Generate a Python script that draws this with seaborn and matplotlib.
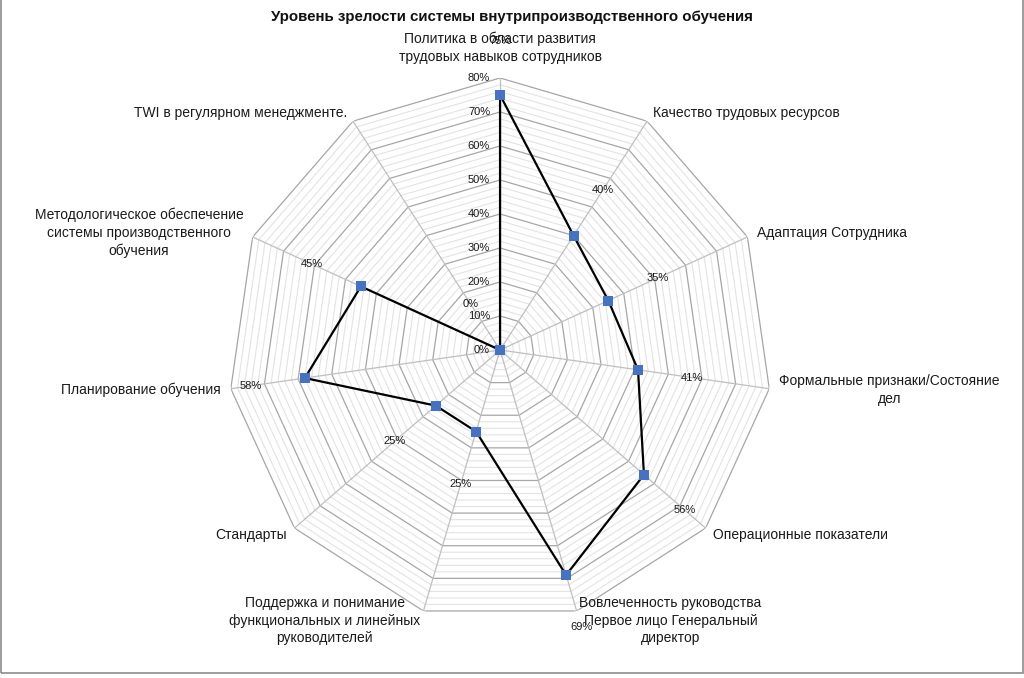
import numpy as np
import pandas as pd
import matplotlib
matplotlib.use("Agg")
import matplotlib.pyplot as plt
import seaborn as sns
from matplotlib.patches import Rectangle


# -------------------------------
# Data
# -------------------------------
categories = [
    "Политика в области развития\nтрудовых навыков сотрудников",
    "Качество трудовых ресурсов",
    "Адаптация Сотрудника",
    "Формальные признаки/Состояние\nдел",
    "Операционные показатели",
    "Вовлеченность руководства\nПервое лицо Генеральный\nдиректор",
    "Поддержка и понимание\nфункциональных и линейных\nруководителей",
    "Стандарты",
    "Планирование обучения",
    "Методологическое обеспечение\nсистемы производственного\nобучения",
    "TWI в регулярном менеджменте.",
]
values = [0.75, 0.40, 0.35, 0.41, 0.56, 0.69, 0.25, 0.25, 0.58, 0.45, 0.00]
value_labels = ["75%", "40%", "35%", "41%", "56%", "69%", "25%", "25%", "58%", "45%", "0%"]
tick_values = [0.0, 0.1, 0.2, 0.3, 0.4, 0.5, 0.6, 0.7, 0.8]
tick_labels = ["0%", "10%", "20%", "30%", "40%", "50%", "60%", "70%", "80%"]
title = "Уровень зрелости системы внутрипроизводственного обучения"

df = pd.DataFrame({"category": categories, "value": values, "label": value_labels})
n = len(df)
df["theta"] = np.linspace(0, 2 * np.pi, n, endpoint=False)
closed = pd.concat([df, df.iloc[[0]].assign(theta=2 * np.pi)], ignore_index=True)

# -------------------------------
# Style
# -------------------------------
sns.set_theme(style="white")
plt.rcParams["font.family"] = ["Liberation Sans", "DejaVu Sans"]

fig = plt.figure(figsize=(10.24, 6.78), dpi=100)
ax = fig.add_axes([0.2227, 0.0826, 0.53125, 0.8024], projection="polar")
ax.set_theta_zero_location("N")
ax.set_theta_direction(-1)
ax.set_ylim(0, 0.8)
ax.grid(False)
ax.set_xticks([])
ax.set_yticks([])
ax.spines["polar"].set_visible(False)
ax.patch.set_alpha(0)

ring_theta = np.append(df["theta"].values, 2 * np.pi)

# minor rings every 2%
for r in np.arange(0.02, 0.8, 0.02):
    if abs(r * 10 - round(r * 10)) < 1e-6:
        continue
    ax.plot(ring_theta, np.full(len(ring_theta), r), color="#e3e3e3", lw=0.8, zorder=1)
# major rings every 10%
for r in tick_values[1:]:
    ax.plot(ring_theta, np.full(len(ring_theta), r), color="#a6a6a6", lw=0.9, zorder=2)
# spokes
for t in df["theta"]:
    ax.plot([t, t], [0, 0.8], color="#bfbfbf", lw=0.9, zorder=2)

# -------------------------------
# Data series
# -------------------------------
sns.lineplot(data=closed, x="theta", y="value", sort=False, estimator=None,
             color="black", lw=1.6, marker="s", markersize=6.5, markeredgewidth=0,
             markerfacecolor="#4472C4", ax=ax, zorder=5)
ax.set_xlabel("")
ax.set_ylabel("")

# data labels, placed a little outside each point
for _, row in df.iterrows():
    ax.text(row["theta"], row["value"] + 0.16, row["label"], fontsize=8,
            ha="center", va="center", color="#1a1a1a", zorder=6)

# radial tick labels along the top axis
for v, lab in zip(tick_values, tick_labels):
    ax.annotate(lab, xy=(0, v), xytext=(-10, 0), textcoords="offset pixels",
                fontsize=8, ha="right", va="center", color="#1a1a1a")

# category labels
for _, row in df.iterrows():
    s, c = np.sin(row["theta"]), np.cos(row["theta"])
    if s > 0.1:
        ha = "left"
    elif s < -0.1:
        ha = "right"
    else:
        ha = "center"
    va = "bottom" if c > 0.95 else "center"
    off = 14 if c > 0.95 else 10
    ax.annotate(row["category"], xy=(row["theta"], 0.8),
                xytext=(off * s, off * c), textcoords="offset pixels",
                fontsize=10, ha=ha, va=va, multialignment="center",
                linespacing=1.35, color="#1a1a1a", annotation_clip=False)

fig.suptitle(title, y=0.985, fontsize=10.8, fontweight="bold", color="#111111")

fig.add_artist(Rectangle((0.0005, 5 / 678), 1022 / 1024, 1.0,
                         transform=fig.transFigure, fill=False,
                         edgecolor="#8c8c8c", lw=1.2))

fig.savefig("out.png", dpi=100)
